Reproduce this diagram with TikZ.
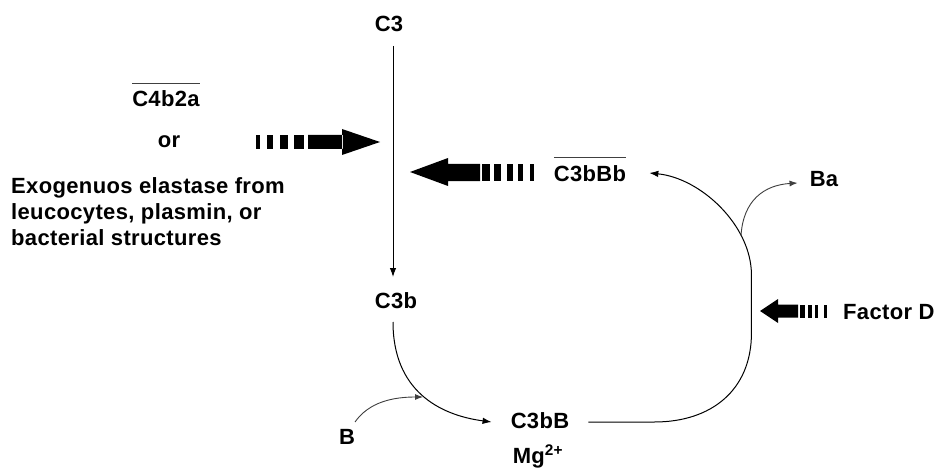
\documentclass[tikz,border=0pt]{standalone}
\usepackage{fontspec}
\setmainfont{Liberation Sans}[LetterSpace=1.6]
\usetikzlibrary{arrows.meta}
\newcommand\myovl[1]{\setbox0\hbox{#1}\rlap{\smash{\color{black!75}\rule[23pt]{\wd0}{0.8pt}}}\box0}
\begin{document}
\begin{tikzpicture}[x=1pt,y=-1pt,
  lbl/.style={font=\fontsize{22}{26}\selectfont\bfseries, inner sep=0pt, anchor=base},
  conn/.style={line width=1pt, -{Latex[length=9pt,width=6.5pt]}},
  side/.style={line width=0.9pt, black!75, -{Latex[length=8pt,width=6pt]}},
  blk/.style={fill=black}]
\useasboundingbox[fill=white] (0,0) rectangle (937,468);
% labels
\node[lbl] (C3) at (389,32) {C3};
\node[lbl] (C4) at (166,107) {\myovl{C4b2a}};
\node[lbl] (or) at (169,147) {or};
\node[lbl, anchor=north west, align=left] (exo) at (11,177) {Exogenuos elastase from\\leucocytes, plasmin, or\\bacterial structures};
\node[lbl] (C3bBb) at (590,181) {\myovl{C3bBb}};
\node[lbl] (Ba) at (824,186) {Ba};
\node[lbl, anchor=base west] (FD) at (843,319) {Factor D};
\node[lbl] (C3b) at (396,308) {C3b};
\node[lbl] (C3bB) at (540,428) {C3bB};
\node[lbl] (Mg) at (538,463) {Mg\textsuperscript{2+}};
\node[lbl] (B) at (347,444) {B};
% dashed block arrow (right)
\fill[blk] (256,135) rectangle (260,149);
\fill[blk] (267,135) rectangle (273,149);
\fill[blk] (280,135) rectangle (288,149);
\fill[blk] (294,135) rectangle (304,149);
\fill[blk] (308,135) rectangle (343,149) (342,129) -- (380,142) -- (342,155) -- cycle;
% dashed block arrow (left)
\fill[blk] (448,158) -- (410,172) -- (448,186) -- cycle (447,164) rectangle (480,181);
\fill[blk] (482,164) rectangle (490,181);
\fill[blk] (494,164) rectangle (501,181);
\fill[blk] (507,164) rectangle (513,181);
\fill[blk] (518,164) rectangle (523,181);
\fill[blk] (530,164) rectangle (534,181);
% factor D arrow
\fill[blk] (778,299) -- (760,311) -- (778,323) -- cycle (777,304.5) rectangle (798,317.5);
\fill[blk] (800,304.5) rectangle (805,317.5);
\fill[blk] (808,304.5) rectangle (812,317.5);
\fill[blk] (815,304.5) rectangle (818,317.5);
\fill[blk] (824,304.5) rectangle (826.5,317.5);
% connectors
\draw[conn] ([shift={(4pt,-14pt)}]C3.base) -- ([shift={(-3pt,31pt)}]C3b.base);
\draw[conn] ([shift={(-3pt,-14pt)}]C3b.base) .. controls +(0,68) and +(-53,-7) .. ([shift={(-19pt,6pt)}]C3bB.base west);
\coordinate (Bt) at (423,397);
\draw[side] ([shift={(8pt,22pt)}]B.base) .. controls +(14,-20) and +(-30,0) .. (Bt);
\draw[conn] ([shift={(19pt,6pt)}]C3bB.base east) -- ++(66,0)
   .. controls +(57,0) and +(0,57) .. ++(97,-89)
   -- ++(0,-58)
   .. controls +(0,-50) and +(51,5) .. ([shift={(23pt,8pt)}]C3bBb.base east);
\coordinate (br) at (741,236);
\draw[side] (br) .. controls +(2,-36) and +(-33,2) .. ([shift={(-12pt,3pt)}]Ba.base west);
\end{tikzpicture}
\end{document}
